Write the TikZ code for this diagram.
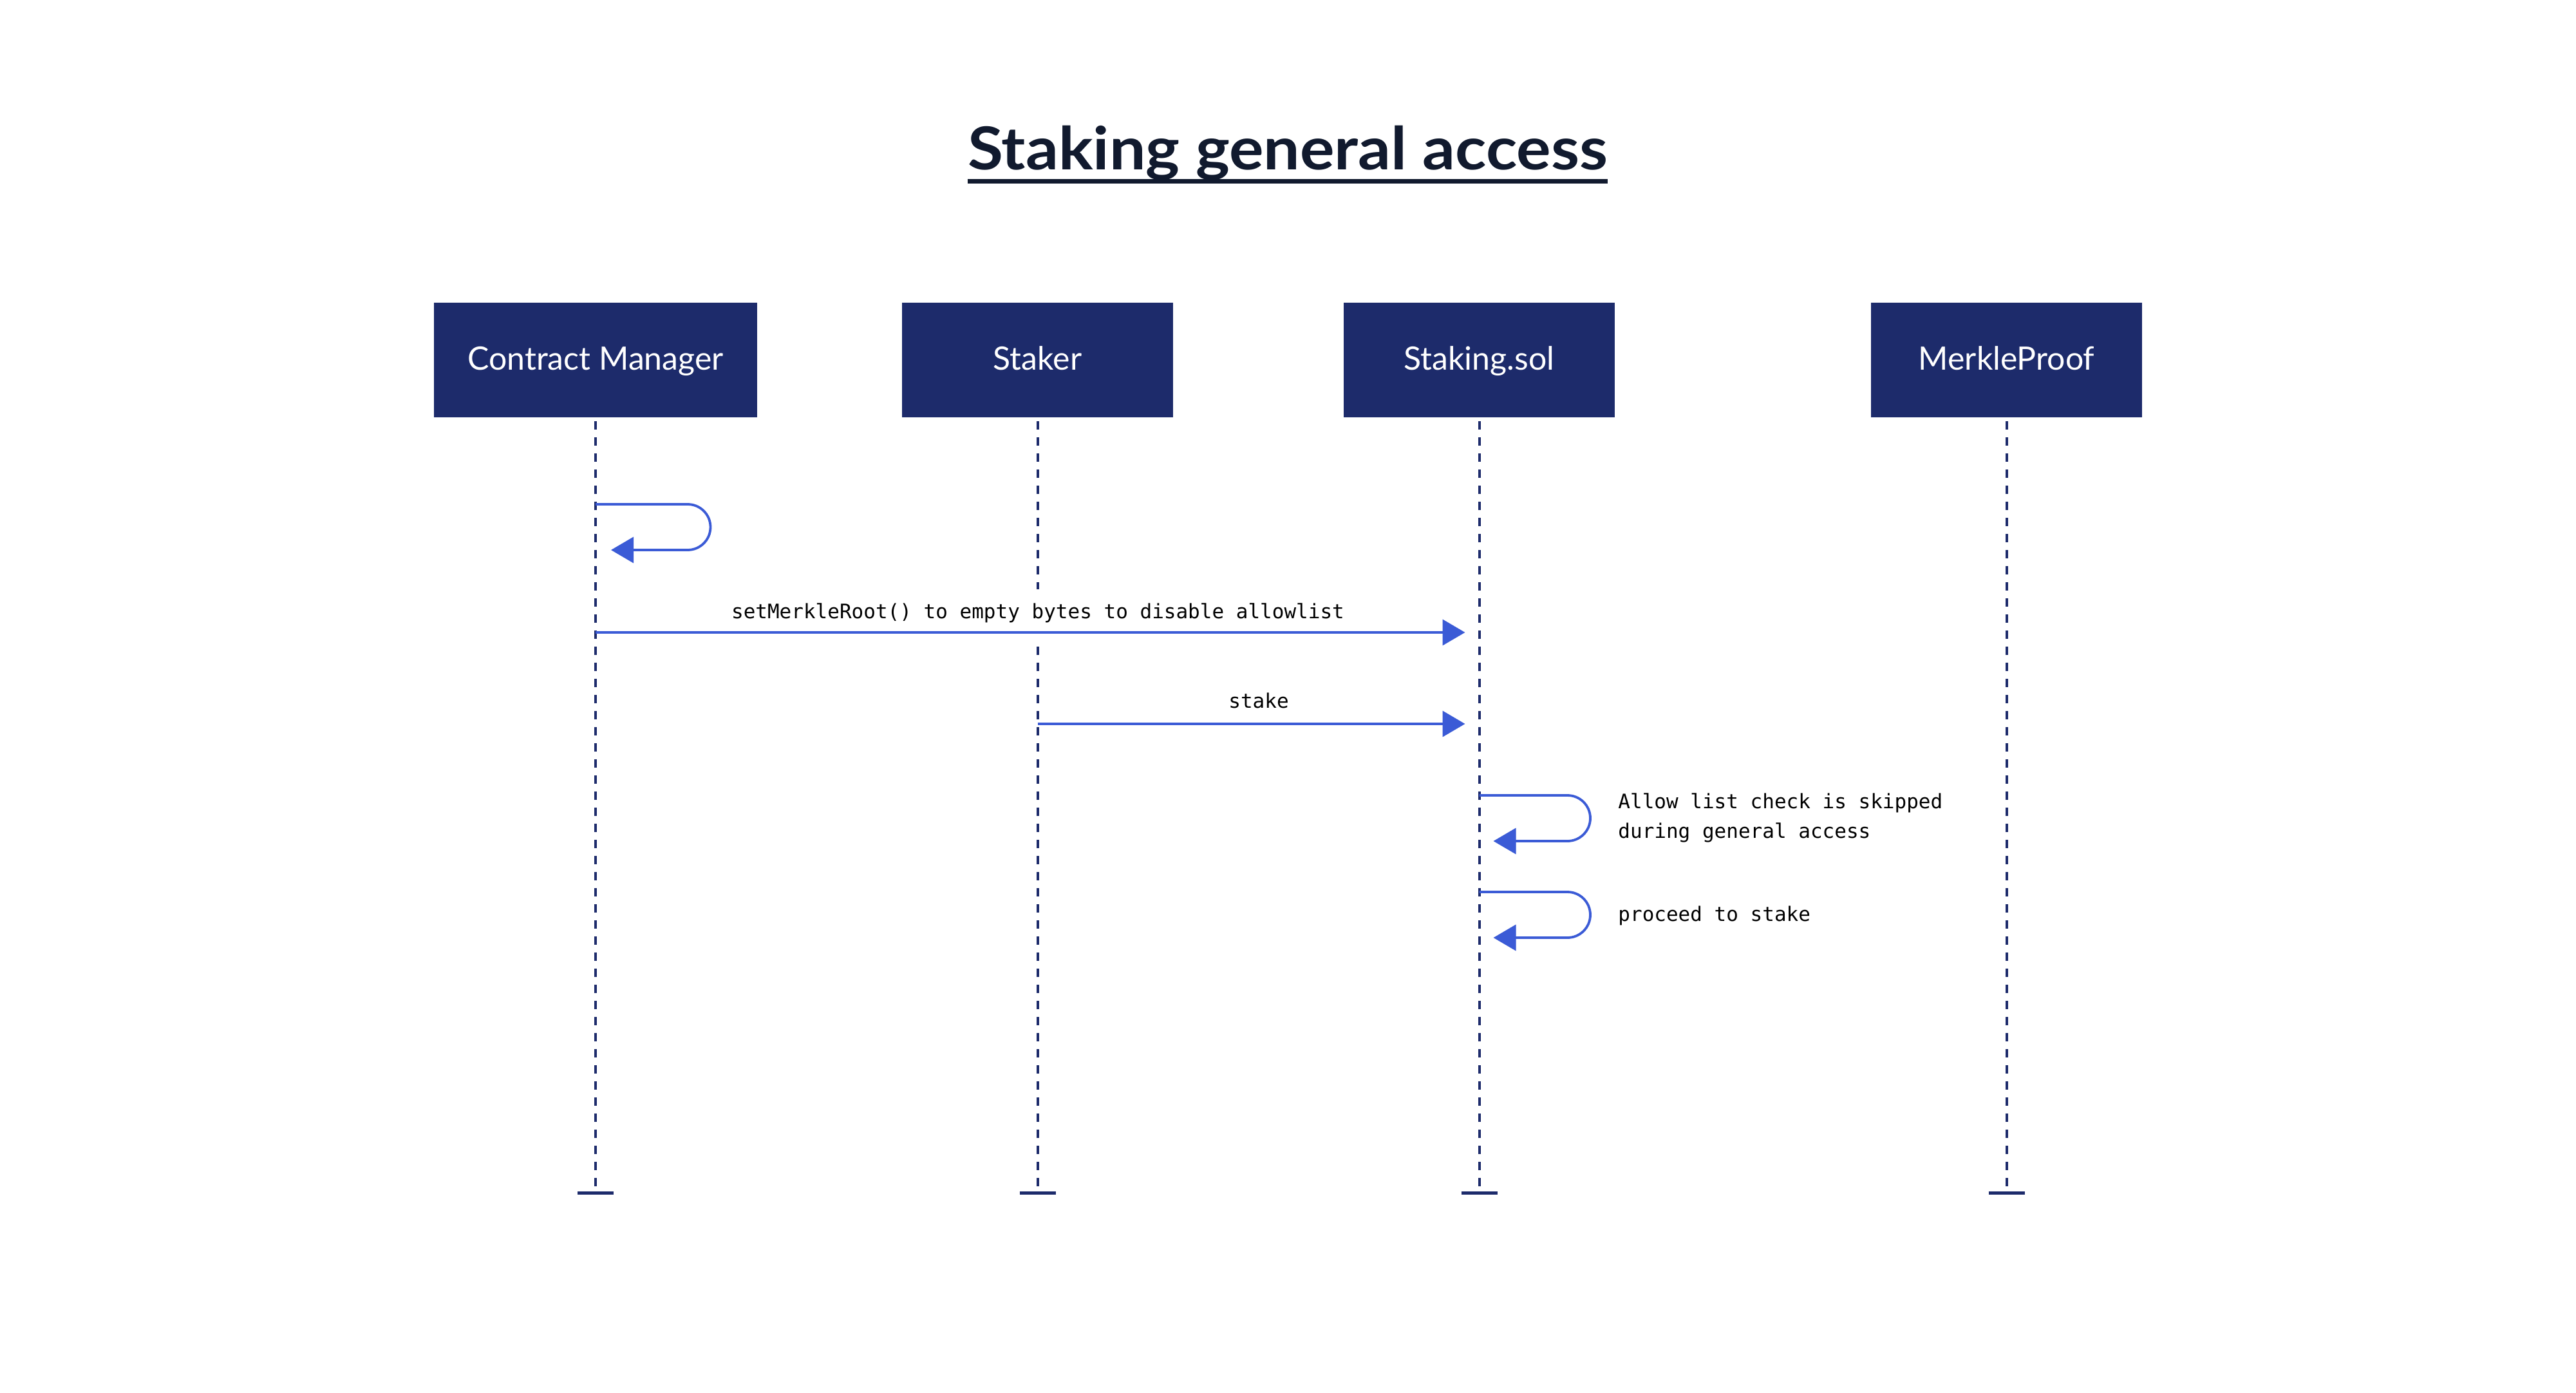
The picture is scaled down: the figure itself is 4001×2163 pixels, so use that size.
\documentclass[tikz,border=0pt]{standalone}
\usepackage{fontspec}
\setmainfont{Lato}
\newfontfamily\monofont{DejaVu Sans Mono}
\usetikzlibrary{arrows.meta}
\definecolor{navy}{HTML}{1D2B6B}
\definecolor{msgblue}{HTML}{3B5BD6}
\definecolor{titlecol}{HTML}{111A2E}
\begin{document}
\begin{tikzpicture}[x=0.5pt,y=-0.5pt,
 actor/.style={fill=navy,draw=none,text=white,minimum height=89pt,inner sep=0pt,text height=15pt,text depth=0pt,font=\fontsize{25}{30}\selectfont},
 lifeline/.style={navy,line width=2pt,dash pattern=on 6.5pt off 6pt},
 endbar/.style={navy,line width=2.5pt},
 msg/.style={msgblue,line width=1.9pt,-{Triangle[length=17.5pt,width=20pt]}},
 msglabel/.style={font=\monofont\fontsize{15.5}{23}\selectfont,text=black,inner sep=0pt},
 boxlabel/.style={msglabel,fill=white,inner xsep=3pt,text height=22.5pt,text depth=20pt}
]
\fill[white] (0,0) rectangle (4001,2163);
\useasboundingbox (0,0) rectangle (4001,2163);

% title
\node[anchor=base,font=\bfseries\fontsize{46}{50}\selectfont,text=titlecol,inner sep=0pt] (title) at (2000,263) {\scalebox{1.09}[1]{Staking general access}};
\draw[titlecol,line width=3.5pt] (title.west |- 0,281) -- (title.east |- 0,281);

% actors
\node[actor,minimum width=251pt] (cm) at (925,559) {Contract Manager};
\node[actor,minimum width=210.5pt] (st) at (1611.5,559) {Staker};
\node[actor,minimum width=210.5pt] (ss) at (2297.5,559) {Staking.sol};
\node[actor,minimum width=210.5pt] (mp) at (3116.5,559) {MerkleProof};

% lifeline ends
\coordinate (cmE) at (925,1852);
\coordinate (stE) at (1611.5,1852);
\coordinate (ssE) at (2297.5,1852);
\coordinate (mpE) at (3116.5,1852);

\foreach \a in {cm,st,ss,mp}{
  \draw[lifeline] ([yshift=-3pt]\a.south) -- (\a E);
  \draw[endbar] ([xshift=-14pt]\a E) -- ([xshift=14pt]\a E);
}

% self loop on Contract Manager
\coordinate (cm1) at (925,783);
\coordinate (cm1r) at (1068,783);
\coordinate (cm1b) at (925,854);
\draw[msg,shorten >=12pt] (cm1) -- (cm1r) arc[start angle=90,end angle=-90,radius=17.75pt] -- (cm1b);

% setMerkleRoot
\coordinate (cm2) at (925,982);
\coordinate (ss2) at (2297.5,982);
\node[boxlabel,anchor=base] (l1) at (1612,960) {setMerkleRoot() to empty bytes to disable allowlist};
\draw[msg,shorten >=11pt] (cm2) -- (ss2);

% stake
\coordinate (st3) at (1611.5,1124);
\coordinate (ss3) at (2297.5,1124);
\node[boxlabel,anchor=base] (l2) at (1955,1099) {stake};
\draw[msg,shorten >=11pt] (st3) -- (ss3);

% self loop: allow list check
\coordinate (ss4) at (2297.5,1235);
\coordinate (ss4r) at (2434.5,1235);
\coordinate (ss4b) at (2297.5,1306);
\draw[msg,shorten >=11pt] (ss4) -- (ss4r) arc[start angle=90,end angle=-90,radius=17.75pt] -- (ss4b);
\node[msglabel,anchor=base west] (l3a) at (2513,1255) {Allow list check is skipped};
\node[msglabel,anchor=base west] (l3b) at (2513,1301) {during general access};

% self loop: proceed to stake
\coordinate (ss5) at (2297.5,1385);
\coordinate (ss5r) at (2434.5,1385);
\coordinate (ss5b) at (2297.5,1456);
\draw[msg,shorten >=11pt] (ss5) -- (ss5r) arc[start angle=90,end angle=-90,radius=17.75pt] -- (ss5b);
\node[msglabel,anchor=base west] (l4) at (2513,1430) {proceed to stake};
\end{tikzpicture}
\end{document}
